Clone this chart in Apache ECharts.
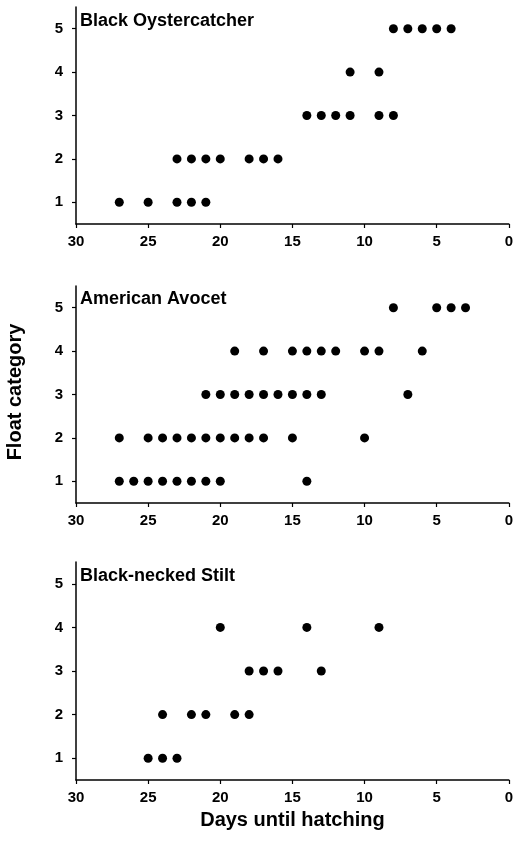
<!DOCTYPE html>
<html>
<head>
<meta charset="utf-8">
<script src="https://cdn.jsdelivr.net/npm/echarts@6/dist/echarts.min.js"></script>
<style>html,body{margin:0;padding:0;background:#fff;}#c{width:516px;height:852px;}</style>
</head>
<body>
<div id="c"></div>
<script>
// Data: [days until hatching, float category]
var panelTitles = ['Black Oystercatcher', 'American Avocet', 'Black-necked Stilt'];
var xTickValues = [0, 5, 10, 15, 20, 25, 30];
var yTickValues = [1, 2, 3, 4, 5];

var oystercatcherDays  = [8, 7, 6, 5, 4,  11, 9,  14, 13, 12, 11, 9, 8,  23, 22, 21, 20, 18, 17, 16,  27, 25, 23, 22, 21];
var oystercatcherFloat = [5, 5, 5, 5, 5,  4, 4,   3, 3, 3, 3, 3, 3,      2, 2, 2, 2, 2, 2, 2,         1, 1, 1, 1, 1];

var avocetDays  = [8, 5, 4, 3,  19, 17, 15, 14, 13, 12, 10, 9, 6,  21, 20, 19, 18, 17, 16, 15, 14, 13, 7,  27, 25, 24, 23, 22, 21, 20, 19, 18, 17, 15, 10,  27, 26, 25, 24, 23, 22, 21, 20, 14];
var avocetFloat = [5, 5, 5, 5,  4, 4, 4, 4, 4, 4, 4, 4, 4,         3, 3, 3, 3, 3, 3, 3, 3, 3, 3,          2, 2, 2, 2, 2, 2, 2, 2, 2, 2, 2, 2,           1, 1, 1, 1, 1, 1, 1, 1, 1];

var stiltDays  = [20, 14, 9,  18, 17, 16, 13,  24, 22, 21, 19, 18,  25, 24, 23];
var stiltFloat = [4, 4, 4,    3, 3, 3, 3,      2, 2, 2, 2, 2,       1, 1, 1];

function pairs(xs, ys) { return xs.map(function (x, i) { return [x, ys[i]]; }); }
var seriesData = [pairs(oystercatcherDays, oystercatcherFloat), pairs(avocetDays, avocetFloat), pairs(stiltDays, stiltFloat)];

var ink = '#000';
var font = 'Liberation Sans, Arial, sans-serif';
var grids = [
  {left: 76, width: 434, top: 7, height: 217},
  {left: 76, width: 434, top: 286, height: 217},
  {left: 76, width: 434, top: 562, height: 218}
];
var titleTops = [12, 290, 567];

var option = {
  backgroundColor: '#fff',
  animation: false,
  title: panelTitles.map(function (t, i) {
    return {text: t, left: 80, top: titleTops[i], padding: 0,
      textStyle: {fontFamily: font, fontSize: 18, fontWeight: 'bold', color: ink}};
  }),
  grid: grids,
  xAxis: grids.map(function (g, i) {
    return {
      type: 'value', gridIndex: i, min: 0, max: 30, interval: 5, inverse: true,
      name: i === 2 ? 'Days until hatching' : '',
      nameLocation: 'middle', nameGap: 30,
      nameTextStyle: {fontFamily: font, fontSize: 20, fontWeight: 'bold', color: ink},
      splitLine: {show: false},
      axisLine: {show: true, onZero: false, lineStyle: {color: ink, width: 1.5}},
      axisTick: {show: true, length: 4, lineStyle: {color: ink, width: 1.2}},
      axisLabel: {margin: 10, fontFamily: font, fontSize: 15, fontWeight: 'bold', color: ink}
    };
  }),
  yAxis: grids.map(function (g, i) {
    return {
      type: 'value', gridIndex: i, min: 0.5, max: 5.5,
      splitLine: {show: false},
      axisLine: {show: true, onZero: false, lineStyle: {color: ink, width: 1.5}},
      axisTick: {show: true, length: 4, customValues: yTickValues, lineStyle: {color: ink, width: 1.2}},
      axisLabel: {margin: 13, customValues: yTickValues, fontFamily: font, fontSize: 15, fontWeight: 'bold', color: ink}
    };
  }),
  series: seriesData.map(function (d, i) {
    return {type: 'scatter', xAxisIndex: i, yAxisIndex: i, data: d, symbol: 'circle', symbolSize: 9,
      itemStyle: {color: '#000', opacity: 1}};
  }),
  graphic: [{
    type: 'text', x: 15, y: 392, rotation: Math.PI / 2,
    style: {text: 'Float category', fontFamily: font, fontSize: 20, fontWeight: 'bold', fill: ink,
      align: 'center', verticalAlign: 'middle'}
  }]
};
echarts.init(document.getElementById('c')).setOption(option);
</script>
</body>
</html>
